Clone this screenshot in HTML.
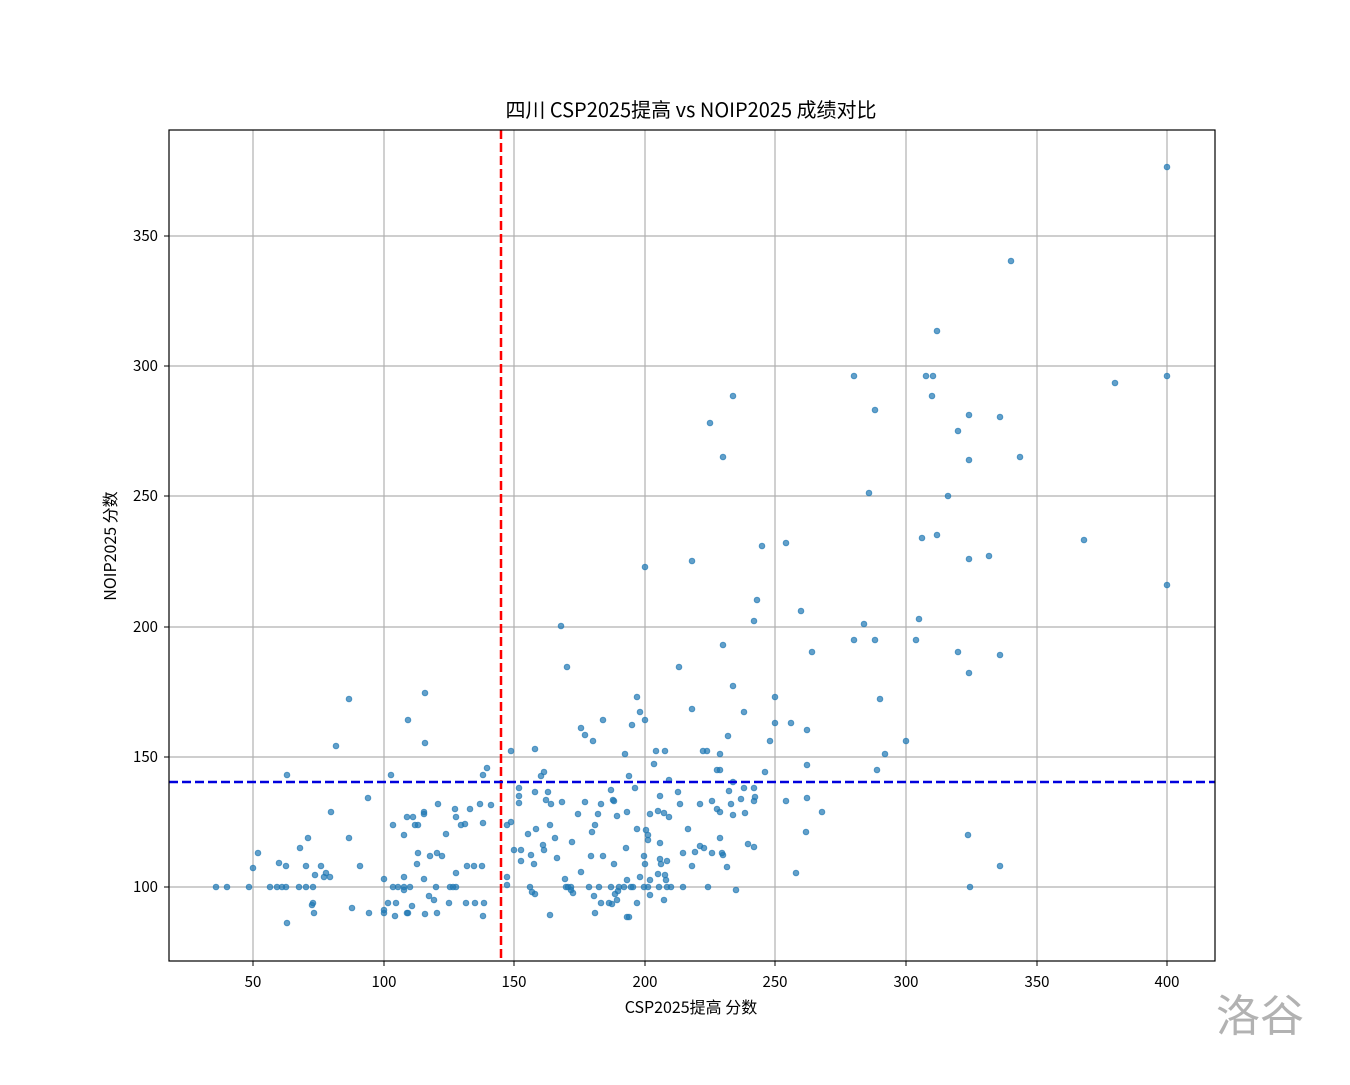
<!DOCTYPE html>
<html><head><meta charset="utf-8">
<style>
html,body{margin:0;padding:0;background:#fff;}
svg text{font-family:"WenQuanYi Zen Hei","Noto Sans CJK SC",monospace;fill:#000;}
</style></head>
<body>
<svg id="s" width="1350" height="1080" xmlns="http://www.w3.org/2000/svg">
<rect width="1350" height="1080" fill="#fff"/>
<g stroke="#b0b0b0" stroke-width="1.2">
<line x1="253" y1="130" x2="253" y2="961"/><line x1="384" y1="130" x2="384" y2="961"/>
<line x1="514" y1="130" x2="514" y2="961"/><line x1="645" y1="130" x2="645" y2="961"/>
<line x1="775" y1="130" x2="775" y2="961"/><line x1="906" y1="130" x2="906" y2="961"/>
<line x1="1037" y1="130" x2="1037" y2="961"/><line x1="1167" y1="130" x2="1167" y2="961"/>
<line x1="169" y1="887" x2="1215" y2="887"/><line x1="169" y1="757" x2="1215" y2="757"/>
<line x1="169" y1="627" x2="1215" y2="627"/><line x1="169" y1="496" x2="1215" y2="496"/>
<line x1="169" y1="366" x2="1215" y2="366"/><line x1="169" y1="236" x2="1215" y2="236"/>
</g>
<g id="pts" fill="#1f77b4" fill-opacity="0.7" stroke="#1f77b4" stroke-opacity="0.7" stroke-width="1"></g>
<line x1="501" y1="130" x2="501" y2="961" stroke="#ff0000" stroke-width="2.5" stroke-dasharray="9,4"/>
<line x1="169" y1="782" x2="1215" y2="782" stroke="#0000dd" stroke-width="2.5" stroke-dasharray="9,4"/>
<rect x="169" y="130" width="1046" height="831" fill="none" stroke="#000" stroke-width="1.2"/>
<g stroke="#000" stroke-width="1">
<line x1="253" y1="961" x2="253" y2="966"/><line x1="384" y1="961" x2="384" y2="966"/>
<line x1="514" y1="961" x2="514" y2="966"/><line x1="645" y1="961" x2="645" y2="966"/>
<line x1="775" y1="961" x2="775" y2="966"/><line x1="906" y1="961" x2="906" y2="966"/>
<line x1="1037" y1="961" x2="1037" y2="966"/><line x1="1167" y1="961" x2="1167" y2="966"/>
<line x1="164" y1="887" x2="169" y2="887"/><line x1="164" y1="757" x2="169" y2="757"/>
<line x1="164" y1="627" x2="169" y2="627"/><line x1="164" y1="496" x2="169" y2="496"/>
<line x1="164" y1="366" x2="169" y2="366"/><line x1="164" y1="236" x2="169" y2="236"/>
</g>
<g font-size="15" text-anchor="middle">
<text x="253" y="987">50</text><text x="384" y="987">100</text><text x="514" y="987">150</text>
<text x="645" y="987">200</text><text x="775" y="987">250</text><text x="906" y="987">300</text>
<text x="1037" y="987">350</text><text x="1167" y="987">400</text>
</g>
<g font-size="15" text-anchor="end">
<text x="158" y="892">100</text><text x="158" y="762">150</text><text x="158" y="632">200</text>
<text x="158" y="501">250</text><text x="158" y="371">300</text><text x="158" y="241">350</text>
</g>
<text x="691" y="1013" font-size="16" text-anchor="middle">CSP2025提高 分数</text>
<text x="0" y="0" font-size="16" text-anchor="middle" transform="translate(116,546) rotate(-90)">NOIP2025 分数</text>
<text x="691" y="117" font-size="20" text-anchor="middle">四川 CSP2025提高 vs NOIP2025 成绩对比</text>
<text x="1216" y="1031" font-size="44" fill="#999" style="fill:#a0a0a0;opacity:0.8">洛谷</text>
</svg>
<script>
var p=[[1167,167],[1011,261],[937,331],[854,376],[926,376],[933,376],[1167,376],[1115,383],[875,410],[733,396],[932,396],[969,415],[1000,417],[710,423],[958,431],[1020,457],[969,460],[723,457],[869,493],[948,496],[1167,585],[922,538],[937,535],[989,556],[969,559],[1084,540],[786,543],[762,546],[692,561],[645,567],[757,600],[754,621],[801,611],[919,619],[864,624],[854,640],[875,640],[916,640],[723,645],[812,652],[958,652],[1000,655],[969,673],[561,626],[567,667],[679,667],[733,686],[775,697],[880,699],[349,699],[425,693],[637,697],[640,712],[692,709],[603,720],[645,720],[632,725],[744,712],[775,723],[791,723],[807,730],[581,728],[585,735],[593,741],[728,736],[408,720],[336,746],[425,743],[487,768],[511,751],[535,749],[625,754],[656,751],[665,751],[703,751],[707,751],[720,754],[770,741],[906,741],[885,754],[877,770],[807,765],[654,764],[717,770],[541,776],[544,772],[629,776],[720,770],[765,772],[483,775],[287,775],[391,775],[669,780],[733,782],[744,788],[754,788],[635,788],[519,788],[519,796],[548,792],[535,792],[678,792],[611,790],[562,802],[551,804],[585,802],[614,801],[601,804],[613,800],[480,804],[438,804],[455,809],[470,809],[424,812],[424,814],[368,798],[331,812],[546,800],[491,805],[519,803],[660,796],[712,801],[717,809],[731,804],[741,799],[754,801],[755,797],[786,801],[822,812],[807,798],[729,791],[733,815],[745,813],[720,812],[627,812],[664,813],[680,804],[650,814],[669,817],[483,823],[511,822],[507,825],[393,825],[415,825],[413,817],[407,817],[418,825],[461,825],[550,825],[595,825],[592,832],[598,814],[578,814],[617,816],[637,829],[646,830],[648,835],[658,811],[700,804],[688,829],[968,835],[806,832],[720,838],[555,838],[528,834],[536,829],[446,834],[404,835],[349,838],[308,838],[300,848],[465,824],[456,817],[514,850],[521,850],[543,845],[531,855],[544,850],[572,842],[557,858],[521,861],[534,864],[581,872],[591,856],[603,856],[614,864],[626,848],[660,859],[700,846],[712,853],[722,853],[644,856],[645,864],[648,840],[660,843],[683,853],[695,852],[704,848],[723,855],[692,866],[727,867],[748,844],[754,847],[796,873],[1000,866],[258,853],[286,866],[279,863],[306,866],[321,866],[417,864],[360,866],[456,873],[467,866],[474,866],[482,866],[404,877],[437,853],[442,856],[430,856],[418,853],[330,877],[324,877],[326,873],[315,875],[313,887],[299,887],[306,887],[286,887],[282,887],[277,887],[270,887],[249,887],[216,887],[227,887],[253,868],[436,887],[450,887],[456,887],[424,879],[410,887],[398,887],[393,887],[384,879],[388,903],[396,903],[404,887],[404,890],[408,913],[412,906],[434,900],[429,896],[449,903],[453,887],[466,903],[475,903],[484,903],[507,877],[507,885],[530,887],[535,894],[566,887],[571,887],[571,890],[589,887],[599,887],[565,879],[568,887],[611,887],[619,887],[624,887],[627,880],[631,887],[644,887],[648,887],[659,887],[667,887],[666,880],[671,887],[708,887],[640,877],[736,890],[633,887],[658,874],[661,864],[683,887],[970,887],[384,910],[384,913],[369,913],[352,908],[313,903],[314,913],[395,916],[407,913],[437,913],[425,914],[483,916],[532,892],[601,903],[615,894],[637,903],[650,895],[612,904],[627,917],[573,893],[550,915],[287,923],[312,905],[595,913],[617,900],[629,917],[664,900],[665,875],[667,861],[609,903],[618,891],[594,896],[650,880]];
var g=document.getElementById('pts'),h='';
p.forEach(function(a){h+='<circle cx="'+a[0]+'" cy="'+a[1]+'" r="2.8"/>';});
g.innerHTML=h;
</script>
</body></html>
